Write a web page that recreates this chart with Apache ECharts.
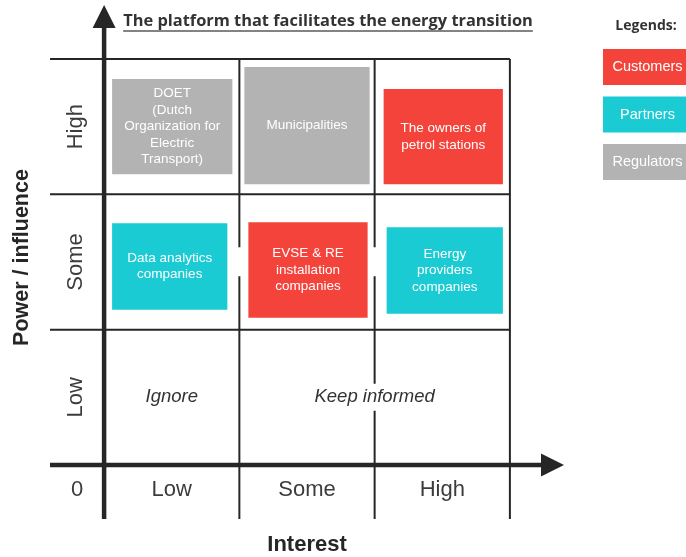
<!DOCTYPE html>
<html>
<head>
<meta charset="utf-8">
<script src="https://cdn.jsdelivr.net/npm/echarts@6/dist/echarts.min.js"></script>
<style>
  html, body { margin: 0; padding: 0; background: #ffffff; }
  #chart { width: 686px; height: 557px; }
</style>
</head>
<body>
<div id="chart"></div>
<script>
// ---- Data -------------------------------------------------------------
const titleText = 'The platform that facilitates the energy transition';
const legendTitle = 'Legends:';

// Levels on both axes, ordered low to high
const interestLevels = ['Low', 'Some', 'High'];
const powerLevels = ['Low', 'Some', 'High'];
const originLabel = '0';
const interestName = 'Interest';
const powerName = 'Power / influence';

// Stakeholders and where they sit on the interest / power grid
const stakeholderNames = [
  'DOET\n(Dutch\nOrganization for\nElectric\nTransport)',
  'Municipalities',
  'The owners of\npetrol stations',
  'Data analytics\ncompanies',
  'EVSE & RE\ninstallation\ncompanies',
  'Energy\nproviders\ncompanies'
];
const stakeholderInterest = ['Low', 'Some', 'High', 'Low', 'Some', 'High'];
const stakeholderPower = ['High', 'High', 'High', 'Some', 'Some', 'Some'];
const stakeholderGroups = ['Regulators', 'Regulators', 'Customers', 'Partners', 'Customers', 'Partners'];

// Stakeholder groups shown in the legend
const groupNames = ['Customers', 'Partners', 'Regulators'];

// Engagement notes for the low-power row
const noteTexts = ['Ignore', 'Keep informed'];
const noteInterestFrom = ['Low', 'Some'];
const noteInterestTo = ['Low', 'High'];
const notePower = ['Low', 'Low'];

// ---- Styling ----------------------------------------------------------
const groupColors = { Customers: '#f4433a', Partners: '#1acbd3', Regulators: '#b3b3b3' };
const SANS = '"Liberation Sans", Arial, sans-serif';
const HEAD = '"Open Sans", sans-serif';
const INK = '#262626';
const LABEL_INK = '#3c3c3c';

// axis extent: a narrow margin column/row below zero, arrow head room above the grid
const AXIS_MIN = -0.4;
const AXIS_MAX = 3.4;
const GRID = { left: 50, top: 5, width: 514, height: 514 };

// box padding inside its cell, in px: [left, top, right, bottom]
const boxInsets = [
  [8, 20, 7, 20],
  [5, 8, 5, 10],
  [9, 30, 7, 10],
  [8, 29, 12, 20],
  [9, 28, 7, 12],
  [12, 33, 7, 16]
];
// white band behind a box that clears the cell borders around it: [dxLeft, dyTop, dxRight, height]
const boxBackdrops = { 4: [-12, 25, 12, 29] };

const lvl = (levels, name) => levels.indexOf(name);

// ---- Grid frame: cell borders, axes and arrow heads -------------------
const frameData = [];
for (let k = 1; k <= powerLevels.length; k++) {
  frameData.push([AXIS_MIN, k, interestLevels.length, k, 0]);
}
for (let k = 1; k <= interestLevels.length; k++) {
  frameData.push([k, AXIS_MIN, k, powerLevels.length, 0]);
}
frameData.push([AXIS_MIN, 0, AXIS_MAX, 0, 1]);
frameData.push([0, AXIS_MIN, 0, AXIS_MAX, 1]);

function renderFrame(params, api) {
  const p0 = api.coord([api.value(0), api.value(1)]);
  const p1 = api.coord([api.value(2), api.value(3)]);
  const axis = api.value(4) === 1;
  if (!axis) {
    return {
      type: 'line',
      shape: { x1: p0[0], y1: p0[1], x2: p1[0], y2: p1[1] },
      style: { stroke: INK, lineWidth: 2 }
    };
  }
  const horizontal = Math.abs(p1[1] - p0[1]) < 1;
  const head = 23, half = 11.5;
  let lineEnd, tri;
  if (horizontal) {
    lineEnd = [p1[0] - head + 2, p1[1]];
    tri = [[p1[0], p1[1]], [p1[0] - head, p1[1] - half], [p1[0] - head, p1[1] + half]];
  } else {
    lineEnd = [p1[0], p1[1] + head - 2];
    tri = [[p1[0], p1[1]], [p1[0] - half, p1[1] + head], [p1[0] + half, p1[1] + head]];
  }
  return {
    type: 'group',
    children: [
      { type: 'line', shape: { x1: p0[0], y1: p0[1], x2: lineEnd[0], y2: lineEnd[1] },
        style: { stroke: INK, lineWidth: 4.5 } },
      { type: 'polygon', shape: { points: tri }, style: { fill: INK } }
    ]
  };
}

// ---- Stakeholder boxes ------------------------------------------------
const boxData = stakeholderNames.map((n, i) => [
  lvl(interestLevels, stakeholderInterest[i]),
  lvl(powerLevels, stakeholderPower[i]),
  i
]);

function renderBox(params, api) {
  const xi = api.value(0), yi = api.value(1), k = api.value(2);
  const tl = api.coord([xi, yi + 1]);
  const br = api.coord([xi + 1, yi]);
  const ins = boxInsets[k];
  const x = tl[0] + ins[0], y = tl[1] + ins[1];
  const w = br[0] - ins[2] - x, h = br[1] - ins[3] - y;
  const children = [];
  const bd = boxBackdrops[k];
  if (bd) {
    children.push({ type: 'rect', shape: { x: x + bd[0], y: y + bd[1], width: w - bd[0] + bd[2], height: bd[3] },
                    style: { fill: '#ffffff' } });
  }
  children.push(
    { type: 'rect', shape: { x: x, y: y, width: w, height: h },
      style: { fill: groupColors[stakeholderGroups[k]] } },
    { type: 'text', x: x + w / 2, y: y + h / 2,
      style: { text: stakeholderNames[k], fill: '#ffffff', fontFamily: SANS, fontSize: 13.5,
               lineHeight: 16.5, align: 'center', verticalAlign: 'middle' } }
  );
  return { type: 'group', children: children };
}

// ---- Notes in the low-power row ---------------------------------------
const noteData = noteTexts.map((t, i) => [
  (lvl(interestLevels, noteInterestFrom[i]) + lvl(interestLevels, noteInterestTo[i]) + 1) / 2,
  lvl(powerLevels, notePower[i]) + 0.5,
  i
]);

function renderNote(params, api) {
  const p = api.coord([api.value(0), api.value(1)]);
  return {
    type: 'text', x: p[0], y: p[1],
    style: { text: noteTexts[api.value(2)], fill: '#333333', fontFamily: SANS, fontSize: 18.5,
             fontStyle: 'italic', align: 'center', verticalAlign: 'middle',
             backgroundColor: '#ffffff', padding: [4, 2] }
  };
}

// ---- Axis labels ------------------------------------------------------
const xLabelValues = [AXIS_MIN / 2].concat(interestLevels.map((l, i) => i + 0.5));
const xLabelTexts = [originLabel].concat(interestLevels);
const yLabelValues = powerLevels.map((l, i) => i + 0.5);
const yLabelTexts = powerLevels.slice();

function pick(values, texts) {
  return function (v) {
    for (let i = 0; i < values.length; i++) {
      if (Math.abs(values[i] - v) < 1e-6) return texts[i];
    }
    return '';
  };
}

// the axes cross at zero, which sits inside the grid by the width of the margin band
const zeroInsetX = (0 - AXIS_MIN) / (AXIS_MAX - AXIS_MIN) * GRID.width;
const zeroInsetY = (0 - AXIS_MIN) / (AXIS_MAX - AXIS_MIN) * GRID.height;

// ---- Title underline width and legend ---------------------------------
const TITLE_FONT = '700 16.4px ' + HEAD;
const measureCtx = document.createElement('canvas').getContext('2d');
measureCtx.font = TITLE_FONT;
const titleWidth = measureCtx.measureText(titleText).width;
const titleCx = 328;

const graphics = [
  { type: 'text', x: titleCx, y: 21.5,
    style: { text: titleText, font: TITLE_FONT, fill: '#333333', align: 'center', verticalAlign: 'middle' } },
  { type: 'line', shape: { x1: titleCx - titleWidth / 2, y1: 31, x2: titleCx + titleWidth / 2, y2: 31 },
    style: { stroke: '#5a5a5a', lineWidth: 1.5 } },
  { type: 'text', x: 646, y: 26,
    style: { text: legendTitle, font: '700 14px ' + HEAD, fill: '#333333', align: 'center', verticalAlign: 'middle' } }
];
groupNames.forEach((g, i) => {
  const top = 49 + i * 47.5;
  graphics.push({ type: 'rect', shape: { x: 603, y: top, width: 89, height: 36 },
                  style: { fill: groupColors[g] } });
  graphics.push({ type: 'text', x: 647.5, y: top + 18,
                  style: { text: g, fill: '#ffffff', fontFamily: SANS, fontSize: 14.5,
                           align: 'center', verticalAlign: 'middle' } });
});

// ---- Chart ------------------------------------------------------------
const chart = echarts.init(document.getElementById('chart'), null, { renderer: 'canvas' });
chart.setOption({
  animation: false,
  backgroundColor: '#ffffff',
  grid: { left: GRID.left, top: GRID.top, width: GRID.width, height: GRID.height,
          containLabel: false, outerBoundsMode: 'none' },
  xAxis: {
    type: 'value', min: AXIS_MIN, max: AXIS_MAX, position: 'bottom', offset: -zeroInsetY,
    axisLine: { show: false, onZero: false },
    axisTick: { show: false }, splitLine: { show: false },
    axisLabel: {
      customValues: xLabelValues, formatter: pick(xLabelValues, xLabelTexts),
      margin: 14, fontSize: 22, fontFamily: SANS, color: LABEL_INK
    },
    name: interestName, nameLocation: 'middle', nameGap: 69,
    nameTextStyle: { fontSize: 22, fontWeight: 'bold', fontFamily: SANS, color: INK }
  },
  yAxis: {
    type: 'value', min: AXIS_MIN, max: AXIS_MAX, position: 'left', offset: -zeroInsetX,
    axisLine: { show: false, onZero: false },
    axisTick: { show: false }, splitLine: { show: false },
    axisLabel: {
      customValues: yLabelValues, formatter: pick(yLabelValues, yLabelTexts),
      rotate: 90, margin: 17, fontSize: 22, fontFamily: SANS, color: LABEL_INK
    },
    name: powerName, nameLocation: 'middle', nameGap: 71,
    nameTextStyle: { fontSize: 21.5, fontWeight: 'bold', fontFamily: SANS, color: INK,
                     padding: [0, 0, 0, 9] }
  },
  graphic: graphics,
  series: [
    { type: 'custom', name: 'frame', coordinateSystem: 'cartesian2d', z: 1, silent: true,
      data: frameData, encode: { x: [0, 2], y: [1, 3] }, renderItem: renderFrame, clip: false },
    { type: 'custom', name: 'notes', coordinateSystem: 'cartesian2d', z: 2, silent: true,
      data: noteData, encode: { x: 0, y: 1 }, renderItem: renderNote },
    { type: 'custom', name: 'stakeholders', coordinateSystem: 'cartesian2d', z: 3,
      data: boxData, encode: { x: 0, y: 1 }, renderItem: renderBox }
  ]
});
</script>
</body>
</html>
